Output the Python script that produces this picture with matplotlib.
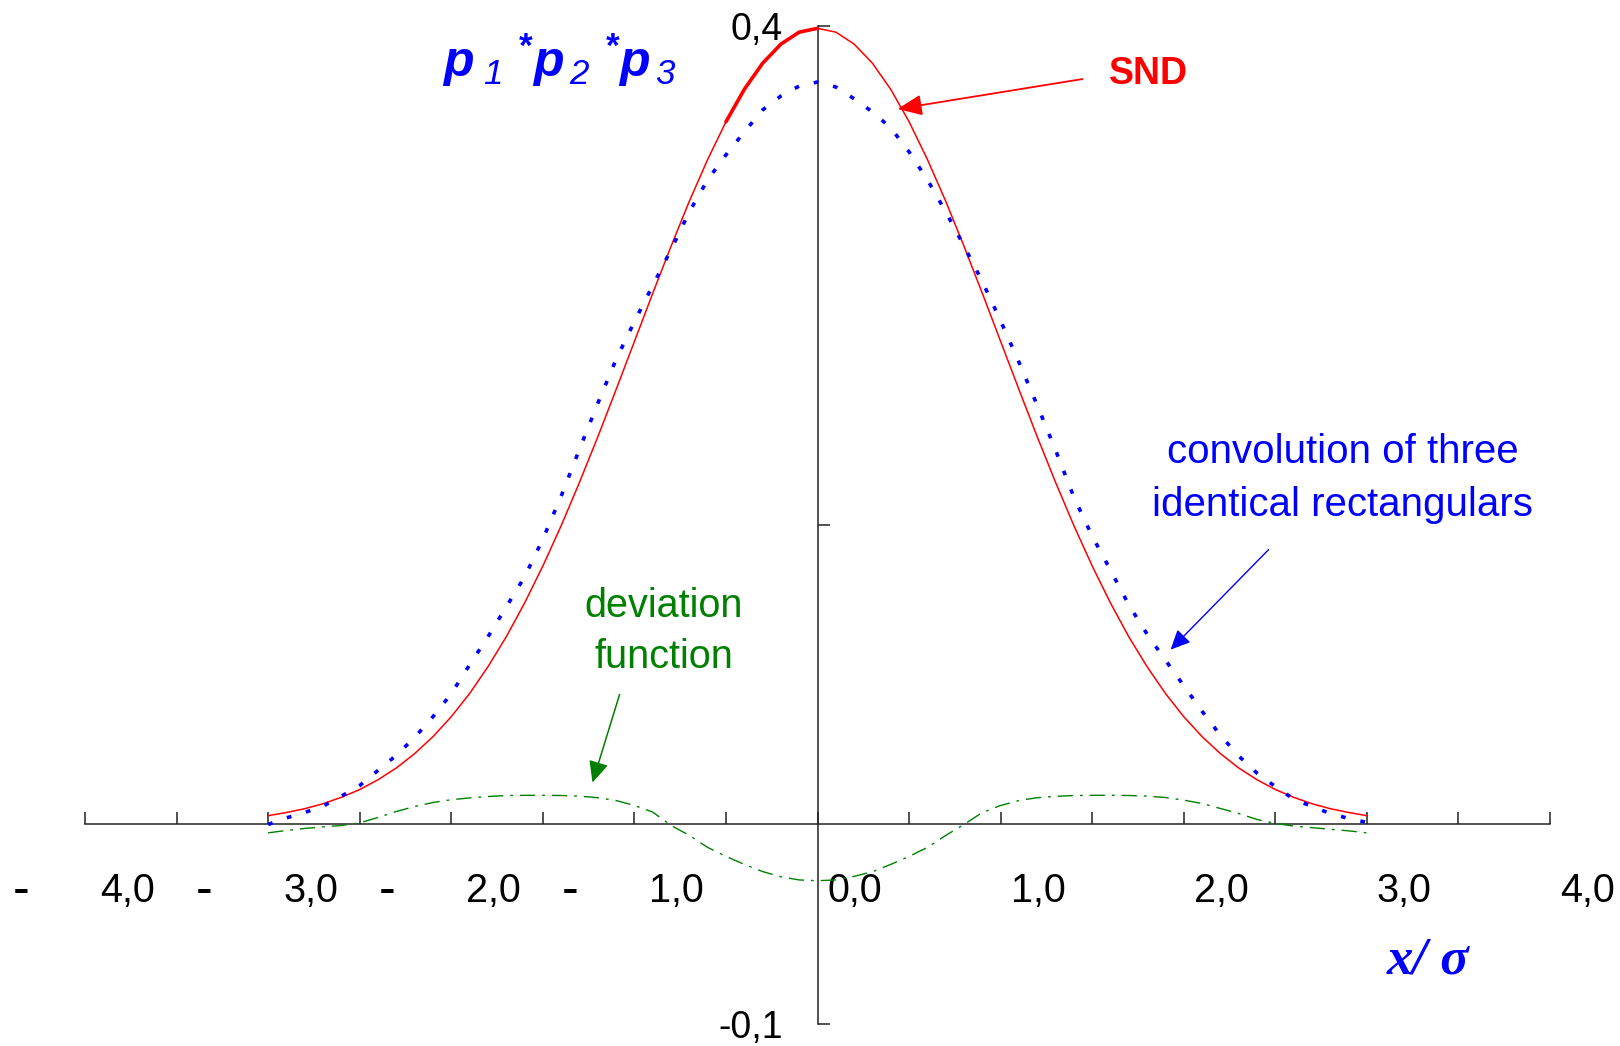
import matplotlib
matplotlib.use('Agg')
import matplotlib.pyplot as plt
from matplotlib import transforms

plt.rcParams['font.family'] = ['Liberation Sans', 'DejaVu Sans']
plt.rcParams['mathtext.fontset'] = 'custom'
plt.rcParams['mathtext.it'] = 'Liberation Sans:italic'
plt.rcParams['mathtext.rm'] = 'Liberation Sans:italic'
plt.rcParams['mathtext.bf'] = 'Liberation Sans:bold'
plt.rcParams['mathtext.bfit'] = 'Liberation Sans:italic:bold'

# ---------------- data ----------------
x_vals = [-3.0, -2.9, -2.8, -2.7, -2.6, -2.5, -2.4, -2.3, -2.2, -2.1,
          -2.0, -1.9, -1.8, -1.7, -1.6, -1.5, -1.4, -1.3, -1.2, -1.1,
          -1.0, -0.9, -0.8, -0.7, -0.6, -0.5, -0.4, -0.3, -0.2, -0.1,
          0.0, 0.1, 0.2, 0.3, 0.4, 0.5, 0.6, 0.7, 0.8, 0.9,
          1.0, 1.1, 1.2, 1.3, 1.4, 1.5, 1.6, 1.7, 1.8, 1.9,
          2.0, 2.1, 2.2, 2.3, 2.4, 2.5, 2.6, 2.7, 2.8, 2.9, 3.0]

snd = [0.0044, 0.0060, 0.0079, 0.0104, 0.0136, 0.0175, 0.0224, 0.0283, 0.0355, 0.0440,
       0.0540, 0.0656, 0.0790, 0.0940, 0.1109, 0.1295, 0.1497, 0.1714, 0.1942, 0.2179,
       0.2420, 0.2661, 0.2897, 0.3123, 0.3332, 0.3521, 0.3683, 0.3814, 0.3910, 0.3970,
       0.3989, 0.3970, 0.3910, 0.3814, 0.3683, 0.3521, 0.3332, 0.3123, 0.2897, 0.2661,
       0.2420, 0.2179, 0.1942, 0.1714, 0.1497, 0.1295, 0.1109, 0.0940, 0.0790, 0.0656,
       0.0540, 0.0440, 0.0355, 0.0283, 0.0224, 0.0175, 0.0136, 0.0104, 0.0079, 0.0060, 0.0044]

conv3 = [0.0000, 0.0033, 0.0060, 0.0092, 0.0142, 0.0195, 0.0271, 0.0347, 0.0436, 0.0540,
         0.0655, 0.0800, 0.0940, 0.1090, 0.1240, 0.1430, 0.1645, 0.1880, 0.2110, 0.2330,
         0.2520, 0.2700, 0.2880, 0.3070, 0.3230, 0.3355, 0.3470, 0.3580, 0.3650, 0.3700,
         0.3720, 0.3695, 0.3636, 0.3570, 0.3490, 0.3370, 0.3230, 0.3070, 0.2898, 0.2720,
         0.2523, 0.2316, 0.2100, 0.1875, 0.1640, 0.1444, 0.1274, 0.1100, 0.0953, 0.0823,
         0.0695, 0.0567, 0.0447, 0.0343, 0.0257, 0.0190, 0.0127, 0.0090, 0.0055, 0.0030, 0.0010]

deviation = [-0.0042, -0.0030, -0.0020, -0.0012, -0.0005, 0.0008, 0.0035, 0.0065, 0.0090, 0.0110,
             0.0124, 0.0133, 0.0140, 0.0145, 0.0146, 0.0146, 0.0145, 0.0142, 0.0134, 0.0120,
             0.0095, 0.0062, -0.0005, -0.0055, -0.0115, -0.0160, -0.0200, -0.0236, -0.0262, -0.0278,
             -0.0282, -0.0278, -0.0260, -0.0237, -0.0200, -0.0160, -0.0115, -0.0055, 0.0000, 0.0060,
             0.0095, 0.0120, 0.0134, 0.0141, 0.0145, 0.0146, 0.0146, 0.0145, 0.0142, 0.0135,
             0.0122, 0.0105, 0.0080, 0.0055, 0.0025, 0.0005, -0.0008, -0.0016, -0.0024, -0.0032, -0.0042]

x_ticks = [-4.0, -3.5, -3.0, -2.5, -2.0, -1.5, -1.0, -0.5, 0.0,
           0.5, 1.0, 1.5, 2.0, 2.5, 3.0, 3.5, 4.0]
x_ticklabels = ['4,0', '', '3,0', '', '2,0', '', '1,0', '', '0,0',
                '', '1,0', '', '2,0', '', '3,0', '', '4,0']
neg_label_pos = [-4.0, -3.0, -2.0, -1.0]
y_ticks = [-0.1, 0.15, 0.4]
y_ticklabels = ['-0,1', '', '0,4']

RED = '#FF0000'
BLUE = '#0000FF'
GREEN = '#008000'

# ---------------- figure ----------------
fig = plt.figure(figsize=(16.2, 10.46), dpi=100)
ax = fig.add_axes([0.0525, 0.021, 0.9043, 0.954])
ax.set_xlim(-4, 4)
ax.set_ylim(-0.1, 0.4)

for s in ['top', 'right']:
    ax.spines[s].set_visible(False)
ax.spines['left'].set_position(('data', 0))
ax.spines['bottom'].set_position(('data', 0))
for s in ['left', 'bottom']:
    ax.spines[s].set_linewidth(1.1)
    ax.spines[s].set_color('#222222')

ax.set_xticks(x_ticks)
ax.set_xticklabels(x_ticklabels)
ax.set_yticks(y_ticks)
ax.set_yticklabels(y_ticklabels)
ax.tick_params(axis='x', direction='in', length=8.6, width=1.1, color='#222222',
               pad=34, labelsize=28.5)
ax.tick_params(axis='y', direction='in', length=8.6, width=1.1, color='#222222',
               pad=25, labelsize=27)

# shift x tick labels: left aligned right of the tick
for val, lab in zip(x_ticks, ax.get_xticklabels()):
    lab.set_horizontalalignment('left')
    dx = 15 if val < 0 else 10
    lab.set_transform(lab.get_transform() +
                      transforms.ScaledTranslation(dx / 100, 0, fig.dpi_scale_trans))

# separated minus signs of the negative labels
for v in neg_label_pos:
    off = transforms.ScaledTranslation(-64 / 100, -80 / 100, fig.dpi_scale_trans)
    ax.text(v, 0, '-', transform=ax.transData + off, ha='center', va='baseline',
            fontsize=36, color='black', clip_on=False)

# ---------------- curves ----------------
ax.plot(x_vals, snd, color=RED, lw=1.1, zorder=3)
ax.plot(x_vals[25:31], snd[25:31], color=RED, lw=2.6, zorder=3,
        solid_capstyle='round')
ax.plot(x_vals, conv3, color=BLUE, lw=2.6, ls=(0, (1.3, 4.2)), zorder=4,
        dash_capstyle='butt')
ax.plot(x_vals, deviation, color=GREEN, lw=1.0, ls=(0, (11, 5, 2, 5)), zorder=3)

# ---------------- annotations ----------------
ax.text(-1.409, 0.383,
        r'$\mathbfit{p}_{\ 1}\ {}^{\mathbf{*}}\mathbfit{p}_{\,2}\ {}^{\mathbf{*}}\mathbfit{p}_{\,3}$',
        color=BLUE, fontsize=36, ha='center', va='center')

ax.text(1.808, 0.376, 'SND', color=RED, fontsize=27, fontweight='bold',
        ha='center', va='center')
ax.annotate('', xy=(0.437, 0.3585), xytext=(1.447, 0.3735),
            arrowprops=dict(arrowstyle='-|>,head_length=0.75,head_width=0.32',
                            color=RED, lw=1.3, mutation_scale=20,
                            shrinkA=0, shrinkB=0))

ax.text(2.867, 0.1732, 'convolution of three\nidentical rectangulars', color=BLUE,
        fontsize=29, ha='center', va='center', linespacing=1.5)
ax.annotate('', xy=(1.928, 0.0876), xytext=(2.463, 0.1377),
            arrowprops=dict(arrowstyle='-|>,head_length=0.6,head_width=0.28',
                            color=BLUE, lw=1.0, mutation_scale=20,
                            shrinkA=0, shrinkB=0))

ax.text(-0.841, 0.0966, 'deviation\nfunction', color=GREEN,
        fontsize=28.5, ha='center', va='center', linespacing=1.42)
ax.annotate('', xy=(-1.229, 0.021), xytext=(-1.081, 0.0651),
            arrowprops=dict(arrowstyle='-|>,head_length=0.65,head_width=0.3',
                            color=GREEN, lw=1.1, mutation_scale=20,
                            shrinkA=0, shrinkB=0))

ax.text(3.331, -0.068, 'x/ σ', color=BLUE, fontsize=38, fontweight='bold',
        fontstyle='italic', family=['Liberation Serif', 'DejaVu Serif'],
        ha='center', va='center')

fig.savefig('out.png', dpi=100)
